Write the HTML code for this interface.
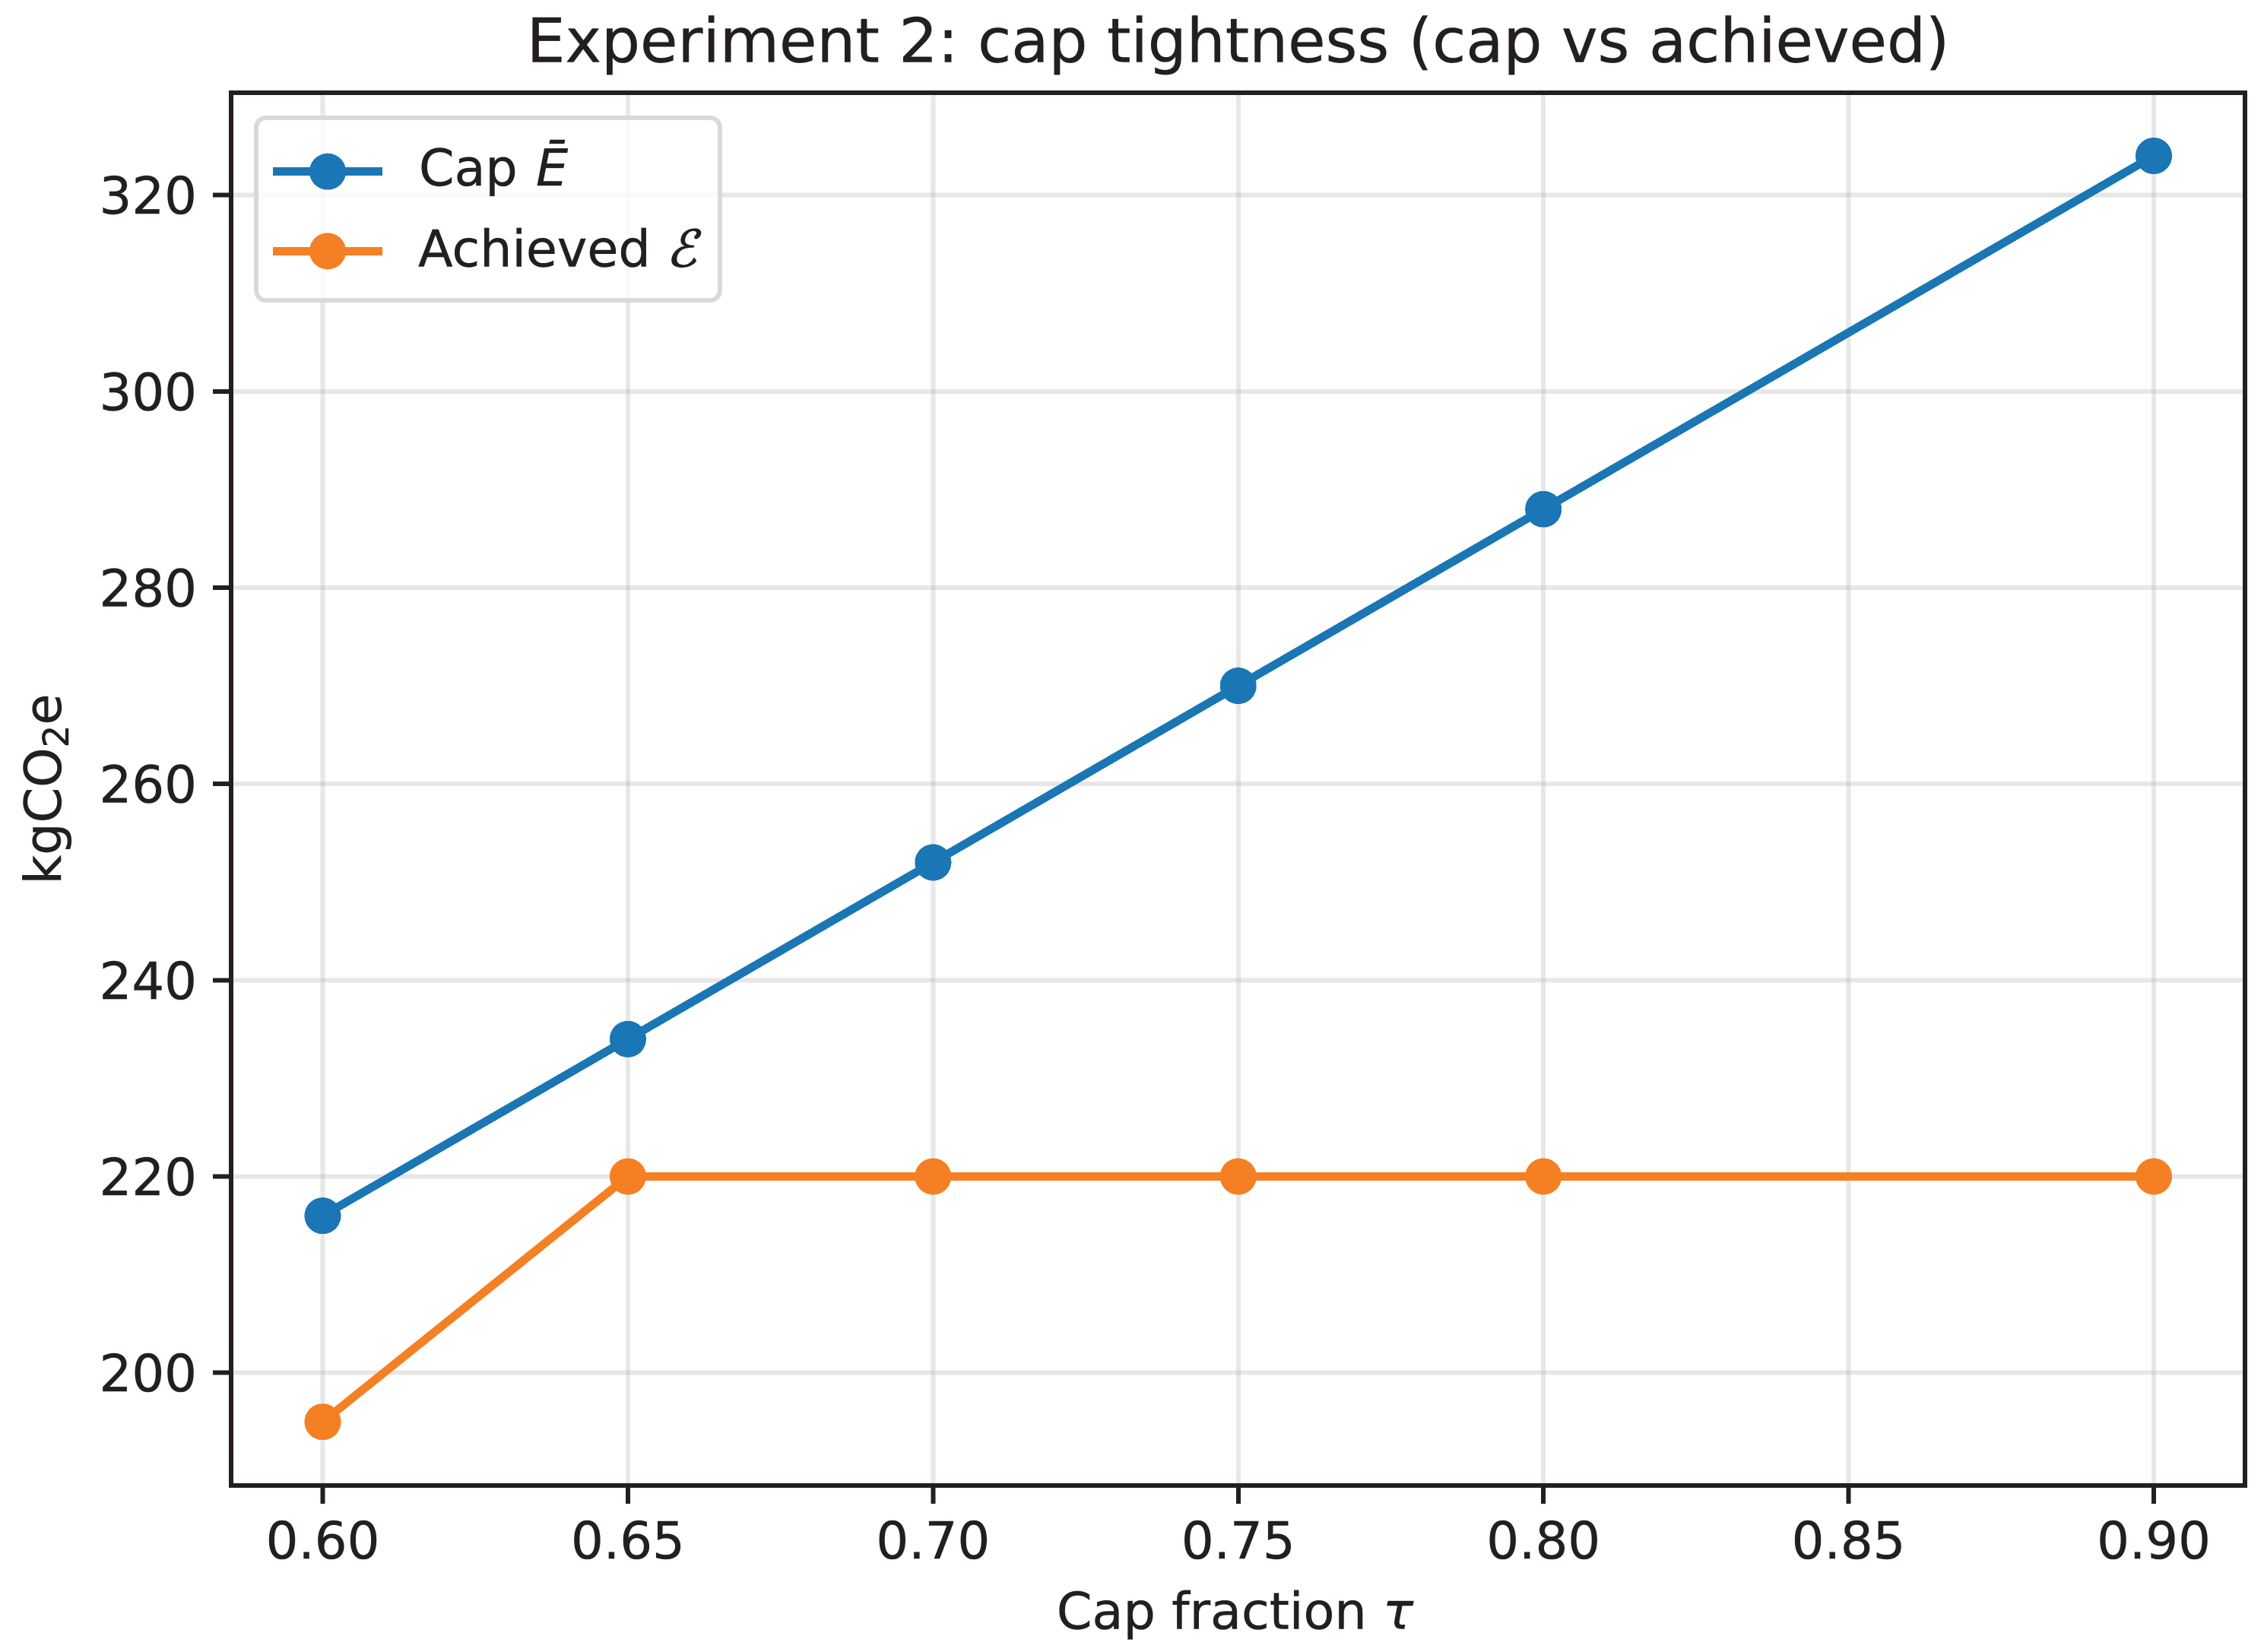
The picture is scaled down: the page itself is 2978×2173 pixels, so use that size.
<!DOCTYPE html>
<html lang="en">
<head>
<meta charset="utf-8">
<title>Experiment 2: cap tightness (cap vs achieved)</title>
<style>
  html, body { margin: 0; padding: 0; background: #fff; }
  svg { display: block; }
  text { font-family: "DejaVu Sans", "Liberation Sans", sans-serif; fill: #231f20; stroke: #231f20; stroke-width: 0.5; text-rendering: geometricPrecision; }
  line, circle, polyline { shape-rendering: crispEdges; }
  .tick { font-size: 67.3px; }
  .legend-text { font-size: 66.7px; }
  .math { font-style: italic; }
</style>
</head>
<body>
<svg id="chart" xmlns="http://www.w3.org/2000/svg" width="2978" height="2173" viewBox="0 0 2978 2173">
  <rect width="2978" height="2173" fill="#ffffff"/>
  <g id="grid"></g>
  <g id="series"></g>
  <rect x="304" y="122" width="2649" height="1832" fill="none" stroke="#231f20" stroke-width="6"/>
  <g id="ticks"></g>
  <g id="tick-labels"></g>
  <text x="1628.5" y="81.5" font-size="80.33" text-anchor="middle">Experiment 2: cap tightness (cap vs achieved)</text>
  <text x="1624.5" y="2142.7" font-size="66.8" text-anchor="middle">Cap fraction <tspan class="math">τ</tspan></text>
  <text transform="translate(80 1038) rotate(-90)" font-size="66.7" text-anchor="middle">kgCO<tspan font-size="46.7" dy="10">2</tspan><tspan dy="-10">e</tspan></text>
  <g id="legend">
    <rect x="337" y="155" width="610" height="240" rx="13" ry="13" fill="#ffffff" fill-opacity="0.8" stroke="#d9d9db" stroke-width="6"/>
    <g>
      <line x1="359" y1="225.7" x2="503" y2="225.7" stroke="#1a76b4" stroke-width="11"/>
      <circle cx="431" cy="225.7" r="24" fill="#1a76b4"/>
      <text class="legend-text" x="551" y="244">Cap <tspan class="math" dx="3">Ē</tspan></text>
    </g>
    <g>
      <line x1="359" y1="330.3" x2="503" y2="330.3" stroke="#f58023" stroke-width="11"/>
      <circle cx="431" cy="330.3" r="24" fill="#f58023"/>
      <text class="legend-text" x="550" y="350.7">Achieved</text>
      <text class="legend-text" transform="translate(876 350.7) skewX(-14)" style="stroke-width:1.2">ℰ</text>
    </g>
  </g>
</svg>
<script>
const xTickValues = [0.60, 0.65, 0.70, 0.75, 0.80, 0.85, 0.90];
const xTickLabels = ["0.60", "0.65", "0.70", "0.75", "0.80", "0.85", "0.90"];
const yTickValues = [200, 220, 240, 260, 280, 300, 320];
const yTickLabels = ["200", "220", "240", "260", "280", "300", "320"];
const capFractions = [0.60, 0.65, 0.70, 0.75, 0.80, 0.90];
const capValues = [216, 234, 252, 270, 288, 324];
const achievedValues = [195, 220, 220, 220, 220, 220];

const SVG_NS = "http://www.w3.org/2000/svg";

function xAxis(v) {
  return 424.5 + (v - 0.60) * (2833 - 424.5) / 0.30;
}
function yAxis(v) {
  return 1805.7 - (v - 200) * (1805.7 - 256.7) / 120;
}
function make(tag, parentId) {
  const el = document.createElementNS(SVG_NS, tag);
  document.getElementById(parentId).appendChild(el);
  return el;
}
function place(el, attrs) {
  Object.keys(attrs).forEach(function (k) { el.setAttribute(k, attrs[k]); });
}

xTickValues.forEach(function (v, i) {
  const x = xAxis(v);
  const grid = make("line", "grid");
  place(grid, { x1: x, y1: 125, x2: x, y2: 1951, stroke: "#b0b0b4", "stroke-opacity": 0.3, "stroke-width": 6 });
  
  
  const tick = make("line", "ticks");
  place(tick, { x1: x, y1: 1957, x2: x, y2: 1978, stroke: "#231f20", "stroke-width": 6 });
  
  
  const label = make("text", "tick-labels");
  place(label, { x: x, y: 2050, "text-anchor": "middle", class: "tick" });
  label.textContent = xTickLabels[i];
  
  
});

yTickValues.forEach(function (v, i) {
  const y = yAxis(v);
  const grid = make("line", "grid");
  place(grid, { x1: 307, y1: y, x2: 2950, y2: y, stroke: "#b0b0b4", "stroke-opacity": 0.3, "stroke-width": 6 });
  
  
  const tick = make("line", "ticks");
  place(tick, { x1: 280, y1: y, x2: 301, y2: y, stroke: "#231f20", "stroke-width": 6 });
  
  
  const label = make("text", "tick-labels");
  place(label, { x: 259, y: y + 24.5, "text-anchor": "end", class: "tick" });
  label.textContent = yTickLabels[i];
  
  
});

function drawSeries(values, color, lineName, markerName) {
  const pts = capFractions.map(function (f, i) {
    return xAxis(f) + "," + yAxis(values[i]);
  }).join(" ");
  const line = make("polyline", "series");
  place(line, { points: pts, fill: "none", stroke: color, "stroke-width": 11, "stroke-linejoin": "round", "stroke-linecap": "butt" });
  
  
  capFractions.forEach(function (f, i) {
    const dot = make("circle", "series");
    place(dot, { cx: xAxis(f), cy: yAxis(values[i]), r: 24, fill: color });
    
    
  });
}

drawSeries(capValues, "#1a76b4", "cap-line", "cap-point");
drawSeries(achievedValues, "#f58023", "achieved-line", "achieved-point");
</script>
</body>
</html>
